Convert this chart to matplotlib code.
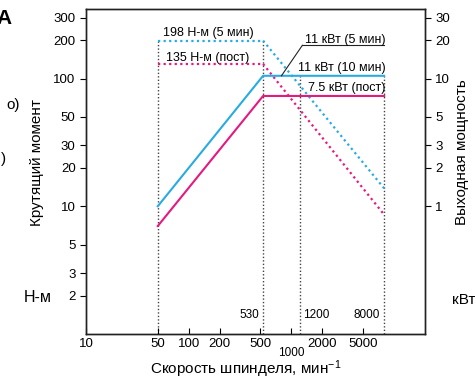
import matplotlib
matplotlib.use("Agg")
import matplotlib.pyplot as plt

plt.rcParams['font.family'] = ['Liberation Sans', 'DejaVu Sans']
plt.rcParams['mathtext.default'] = 'regular'

# spindle speed break points, min^-1
speed = [50, 530, 8000]
speed_flat = [50, 530]
speed_fall = [530, 8000]

# torque, N*m
torque_5min = [198, 198]
torque_5min_fall = [198, 13.8]
torque_cont = [130, 130]
torque_cont_fall = [130, 8.6]

# power, kW
power_5min = [1.0, 10.5, 10.5]
power_cont = [0.70, 7.3, 7.3]

# dotted guides and their labels
guide_x = [50, 530, 1200, 8000]
guide_top = [198, 198, 105, 105]

x_ticks = [10, 50, 100, 200, 500, 1000, 2000, 5000]
x_tick_labels = ['10', '50', '100', '200', '500', '1000', '2000', '5000']
left_ticks = [2, 3, 5, 10, 20, 30, 50, 100, 200, 300]
right_ticks = [1, 2, 3, 5, 10, 20, 30]

blue = '#29abe2'
pink = '#e6197e'
grey = '#444444'

fig = plt.figure(figsize=(4.75, 3.8), dpi=100)
W, H = 475, 380
ax = fig.add_axes([86 / W, 1 - 334 / H, (425 - 86) / W, (334 - 9) / H])
ax.set_xscale('log')
ax.set_yscale('log')
ax.set_xlim(10, 20000)
ax.set_ylim(1, 350)

ax2 = ax.twinx()
ax2.set_yscale('log')
ax2.set_ylim(0.1, 35)

# guides
for x, top in zip(guide_x, guide_top):
    ax.plot([x, x], [1, top], color=grey, lw=1.0, ls=(0, (1, 1.5)), zorder=1)

# torque (dotted)
ax.plot(speed_flat, torque_5min, color=blue, lw=1.6, ls=(0, (1, 1.5)))
ax.plot(speed_fall, torque_5min_fall, color=blue, lw=1.6, ls=(0, (1, 1.5)))
ax.plot(speed_flat, torque_cont, color=pink, lw=1.6, ls=(0, (1, 1.5)))
ax.plot(speed_fall, torque_cont_fall, color=pink, lw=1.6, ls=(0, (1, 1.5)))

# power (solid)
ax2.plot(speed, power_5min, color=blue, lw=1.5)
ax2.plot(speed, power_cont, color=pink, lw=1.5)

# ticks
ax.set_xticks(x_ticks)
ax.set_xticklabels(x_tick_labels)
ax.minorticks_off()
ax.set_yticks(left_ticks)
ax.set_yticklabels([str(t) for t in left_ticks])
ax.tick_params(axis='x', direction='in', length=4, labelsize=9.5, pad=3)
ax.tick_params(axis='y', direction='out', length=4, labelsize=9.5)
# 1000 sits lower than the others
lbl = ax.get_xticklabels()[5]
lbl.set_y(-0.026)
lbl.set_fontsize(8.5)
ax2.minorticks_off()
ax2.set_yticks(right_ticks)
ax2.set_yticklabels([str(t) for t in right_ticks])
ax2.tick_params(axis='y', direction='out', length=4, labelsize=9.5)
for a in (ax, ax2):
    for s in a.spines.values():
        s.set_linewidth(1.0)
        s.set_color('#222222')

# annotations
fs = 9
ax.text(156, 228, '198 Н-м (5 мин)', fontsize=fs, ha='center', va='center')
ax.text(153, 145, '135 Н-м (пост)', fontsize=fs, ha='center', va='center')
ax2.text(8200, 20.1, '11 кВт (5 мин)', fontsize=fs, ha='right', va='center')
ax2.plot([1280, 8000], [18.2, 18.2], color='#222222', lw=0.8)
ax2.plot([800, 1280], [10.5, 18.2], color='#222222', lw=0.8)
ax2.text(8300, 12.1, '11 кВт (10 мин)', fontsize=fs, ha='right', va='center')
ax2.text(8300, 8.4, '7.5 кВт (пост)', fontsize=fs, ha='right', va='center')
ax.text(490, 1.42, '530', fontsize=8.5, ha='right', va='center')
ax.text(1300, 1.42, '1200', fontsize=8.5, ha='left', va='center')
ax.text(7200, 1.42, '8000', fontsize=8.5, ha='right', va='center')

fig.text(246 / W, 1 - 369 / H, 'Скорость шпинделя, мин$^{-1}$', fontsize=11,
         ha='center', va='center')
fig.text(37 / W, 1 - 162 / H, 'Крутящий момент', fontsize=11, rotation=90,
         ha='center', va='center')
fig.text(462 / W, 1 - 152 / H, 'Выходная мощность', fontsize=11, rotation=90,
         ha='center', va='center')
fig.text(38 / W, 1 - 297 / H, 'Н-м', fontsize=11.5, ha='center', va='center')
fig.text(452 / W, 1 - 300 / H, 'кВт', fontsize=11, ha='left', va='center')
fig.text(12 / W, 1 - 18 / H, 'A', fontsize=15, fontweight='bold', ha='right', va='center')
fig.text(20 / W, 1 - 105 / H, 'о)', fontsize=11, ha='right', va='center')
fig.text(6 / W, 1 - 159 / H, ')', fontsize=11, ha='right', va='center')

fig.savefig('out.png', dpi=100)
